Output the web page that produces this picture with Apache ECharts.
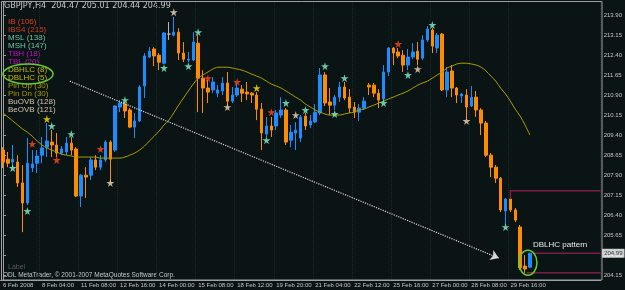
<!DOCTYPE html>
<html>
<head>
<meta charset="utf-8">
<script src="https://cdn.jsdelivr.net/npm/echarts@6/dist/echarts.min.js"></script>
<style>html,body{margin:0;padding:0;background:#0a1414}#chart{width:625px;height:290px}</style>
</head>
<body>
<div id="chart"></div>
<script>
// GBPJPY H4 bars: [open, close, low, high]
var candles = [
  [208.85,208.40,208.18,208.96],[208.51,208.36,208.21,208.78],[208.40,208.51,208.18,209.04],[208.40,207.62,207.47,208.66],
  [207.62,206.87,205.78,208.29],[206.87,208.36,206.79,209.30],[208.18,208.33,208.03,208.85],[208.36,208.63,207.99,208.85],
  [208.66,208.93,208.36,209.34],[208.96,209.19,208.59,209.86],[209.15,209.04,208.59,209.60],[209.04,208.74,208.59,209.49],
  [208.74,208.89,208.66,209.00],[208.78,209.11,208.66,209.34],[209.11,208.85,208.66,209.34],[208.89,207.13,207.09,208.96],
  [207.13,207.91,206.72,207.95],[207.91,207.84,207.06,208.21],[207.91,208.48,207.73,208.59],[208.48,208.21,208.10,208.66],
  [208.21,208.48,208.10,208.66],[208.48,209.15,208.40,209.22],[209.15,208.51,207.65,209.22],[208.85,210.50,208.78,210.53],
  [210.46,210.61,210.27,210.72],[210.57,210.31,210.05,210.65],[210.35,209.71,209.67,210.42],[209.71,209.94,209.30,210.24],
  [209.94,211.21,209.90,211.28],[211.25,212.37,210.80,212.48],[212.33,212.55,212.29,212.70],[212.63,212.37,211.99,212.70],
  [212.40,212.14,211.84,212.48],[212.10,213.23,212.07,213.26],[213.19,213.19,212.97,213.64],[213.15,213.26,213.11,213.83],
  [213.26,212.48,212.22,213.41],[212.48,212.25,212.14,212.89],[212.22,212.25,212.14,212.52],[212.22,212.89,212.18,213.26],
  [212.85,211.54,210.27,213.15],[211.54,211.17,210.24,211.84],[211.17,211.02,210.61,211.47],[211.10,211.40,210.98,211.58],
  [210.98,211.10,210.83,211.28],[211.06,211.36,210.91,211.58],[211.36,210.68,210.53,211.77],[210.68,210.91,210.61,211.21],
  [210.91,211.17,210.83,211.36],[211.13,210.98,210.65,211.28],[211.02,210.95,210.72,211.40],[210.98,210.91,210.61,211.02],
  [210.91,210.38,209.97,211.02],[210.38,209.49,208.85,210.61],[209.45,209.75,209.34,210.09],[209.75,209.60,209.34,210.09],
  [209.75,210.24,209.60,210.35],[210.16,210.35,210.05,210.83],[210.35,209.15,209.04,210.42],[209.22,209.52,208.96,209.79],
  [209.49,209.60,208.85,209.90],[209.30,210.09,209.15,210.16],[210.12,209.75,209.60,210.24],[209.79,209.94,209.67,210.16],
  [209.90,210.27,209.86,210.57],[210.24,211.66,210.16,211.92],[211.66,210.61,210.50,211.77],[210.65,210.53,210.16,211.17],
  [210.53,210.83,210.35,210.91],[210.83,211.21,210.65,211.40],[211.21,210.80,210.72,211.40],[210.83,210.42,210.24,211.13],
  [210.46,210.27,210.05,210.65],[210.27,210.42,209.94,210.57],[210.42,210.68,210.35,210.83],[211.28,211.21,210.91,211.36],
  [211.28,210.98,210.83,211.36],[210.98,210.72,210.42,211.13],[210.76,211.77,210.72,212.03],[211.77,212.67,211.62,212.70],
  [212.67,212.48,212.03,212.70],[212.52,212.37,212.29,212.67],[212.40,212.03,211.77,212.59],[212.03,212.33,211.84,212.63],
  [212.33,212.52,212.25,212.85],[212.55,212.25,212.03,212.89],[212.29,212.97,212.22,213.15],[212.97,213.38,212.89,213.49],
  [213.34,212.74,212.48,213.41],[212.67,213.15,212.48,213.23],[213.19,211.10,211.06,213.23],[211.10,211.77,210.83,211.96],
  [211.81,211.17,210.83,212.03],[211.17,210.91,210.61,211.21],[210.87,210.95,210.61,210.98],[210.91,210.46,210.05,211.13],
  [210.50,210.83,210.46,211.25],[210.83,210.35,210.09,211.06],[210.35,209.86,209.41,210.42],[209.86,208.66,208.59,209.94],
  [208.66,208.21,207.84,208.74],[208.21,207.80,207.62,208.29],[207.80,206.61,206.53,207.84],[206.57,207.02,206.05,207.06],
  [207.02,206.61,206.53,207.09],[206.61,206.23,206.16,206.68],[205.97,204.44,204.36,206.05],[204.51,204.40,204.26,204.92],
  [204.47,204.99,204.44,205.01]
];

var maLine = [
  210.24,210.09,209.94,209.79,209.64,209.52,209.37,209.19,209.04,208.93,208.85,208.78,208.70,208.66,208.63,208.59,
  208.59,208.59,208.59,208.59,208.55,208.55,208.55,208.55,208.55,208.59,208.66,208.74,208.85,209.00,209.19,209.37,
  209.56,209.79,209.97,210.24,210.53,210.80,211.06,211.32,211.54,211.66,211.77,211.88,211.95,211.95,211.95,211.92,
  211.88,211.84,211.77,211.69,211.62,211.54,211.43,211.32,211.25,211.17,211.06,210.95,210.83,210.72,210.57,210.46,
  210.35,210.27,210.20,210.16,210.16,210.16,210.20,210.24,210.27,210.35,210.38,210.46,210.53,210.61,210.68,210.76,
  210.83,210.91,210.98,211.06,211.17,211.28,211.36,211.43,211.54,211.66,211.77,211.92,211.99,212.07,212.10,212.10,
  212.07,212.03,211.95,211.81,211.62,211.43,211.17,210.95,210.68,210.38,210.12,209.79,209.41
];

// signal stars: [bar index, price]
var starsAqua = [[2,208.18],[5,206.57],[10,209.75],[14,209.45],[25,210.72],[33,211.92],[38,211.99],[40,213.26],
  [54,209.22],[58,210.61],[62,210.35],[66,211.99],[68,210.20],[70,211.54],[78,210.61],[83,211.66],[88,213.53],[103,205.97]];
var starsRed = [[6,209.08],[11,208.48],[20,208.89],[42,211.54],[48,211.40],[55,210.27],[81,212.82]];
var starsYellow = [[9,210.01],[52,211.17]];
var starsBeige = [[22,207.62],[35,214.01],[46,210.46],[60,210.16],[85,211.88],[95,209.94]];

var tickIndex = [0, 8, 16, 24, 32, 40, 48, 56, 64, 72, 80, 88, 96, 104];
var tickLabels = ['6 Feb 2008', '8 Feb 04:00', '11 Feb 08:00', '12 Feb 16:00', '14 Feb 00:00', '15 Feb 08:00',
  '18 Feb 12:00', '19 Feb 20:00', '21 Feb 04:00', '22 Feb 12:00', '25 Feb 16:00', '27 Feb 00:00', '28 Feb 08:00', '29 Feb 16:00'];
var priceTicks = [204.15, 204.90, 205.65, 206.40, 207.15, 207.90, 208.65, 209.40, 210.15, 210.90, 211.65, 212.40, 213.15, 213.90];

var lastPrice = 204.99;
var trendLine = [[13.7, 211.43], [101.6, 204.81]];
var patternTop = [[104, 207.02], [104, 207.33], [122.5, 207.33]];
var patternBottom = [[107.3, 204.26], [122.5, 204.26]];
var bidLine = [[108.8, 204.99], [122.5, 204.99]];

var legendNames = ['IB (106)', 'IBS4 (215)', 'MSL (138)', 'MSH (147)', 'TBH (18)', 'TBL (20)', 'DBHLC (8)', 'DBLHC (5)',
  'Pin Up (30)', 'Pin Dn (30)', 'BuOVB (128)', 'BeOVB (121)'];
var legendColors = ['#e0401e', '#d43c1c', '#6cc4a0', '#6cc4a0', '#c010c0', '#c010c0', '#c4b800', '#c4b800',
  '#a89400', '#a89400', '#d8c0a8', '#d8c0a8'];

var slots = 123;
var cats = [];
for (var i = 0; i < slots; i++) cats.push(String(i));

var starPath = 'path://M50,0 L61,35 L98,35 L68,57 L79,91 L50,70 L21,91 L32,57 L2,35 L39,35 Z';
var font = 'Liberation Sans';
var wide = 'DejaVu Sans';

function starSeries(data, color) {
  return {
    type: 'scatter', xAxisIndex: 0, yAxisIndex: 0, data: data, symbol: starPath, symbolSize: 8,
    itemStyle: {color: color}, z: 5, silent: true
  };
}

var chart = echarts.init(document.getElementById('chart'));

var graphics = [
  {type: 'rect', shape: {x: 1.5, y: 1.5, width: 600.5, height: 278.5}, style: {fill: 'none', stroke: '#a0a0a0', lineWidth: 1}, z: 1, silent: true},
  {type: 'text', left: 4, top: 2, style: {text: 'GBPJPY,H4  204.47 205.01 204.44 204.99', fill: '#c8c8c8', font: '8px "' + wide + '"'}},
  {type: 'text', left: 8, top: 264, style: {text: 'Label', fill: '#5a5a5a', font: '7px "' + font + '"'}},
  {type: 'text', left: 3, top: 272, style: {text: 'ODL MetaTrader, \u00a9 2001-2007 MetaQuotes Software Corp.', fill: '#c8c8c8', font: '6.5px "' + font + '"'}},
  {type: 'text', left: 533, top: 241, style: {text: 'DBLHC pattern', fill: '#e8e8e8', font: '8px "' + font + '"'}},
  {type: 'ellipse', shape: {cx: 28, cy: 74, rx: 25, ry: 10}, style: {fill: 'none', stroke: '#66cc33', lineWidth: 1.5}, z: 10}
];
legendNames.forEach(function (name, k) {
  graphics.push({type: 'text', left: 8, top: 18 + 8 * k, style: {text: name, fill: legendColors[k], font: '8px "' + font + '"'}});
});

var option = {
  backgroundColor: '#0a1414',
  animation: false,
  grid: {left: -2, right: 23, top: 2, bottom: 10},
  xAxis: [{
    type: 'category', data: cats, boundaryGap: true,
    axisLine: {lineStyle: {color: '#a0a0a0'}},
    axisTick: {alignWithLabel: true, length: 2, lineStyle: {color: '#a0a0a0'},
      interval: function (idx) { return tickIndex.indexOf(idx) > 0; }},
    axisLabel: {
      interval: function (idx) { return tickIndex.indexOf(idx) >= 0; },
      formatter: function (v, idx) { var k = tickIndex.indexOf(idx); return k >= 0 ? tickLabels[k] : ''; },
      showMinLabel: true,
      align: 'left', margin: 2, fontSize: 6, color: '#c4c4c4', fontFamily: font
    },
    splitLine: {show: true, interval: function (idx) { return tickIndex.indexOf(idx) > 0; },
      lineStyle: {color: '#1d2a2a', type: 'dotted'}}
  }, {
    type: 'value', min: -0.5, max: slots - 0.5, show: false
  }],
  yAxis: {
    type: 'value', position: 'right', min: 203.99, max: 214.39,
    axisLine: {show: true, lineStyle: {color: '#a0a0a0'}},
    axisTick: {show: true, length: 3, customValues: priceTicks, lineStyle: {color: '#a0a0a0'}},
    axisLabel: {customValues: priceTicks, formatter: function (v) { return v.toFixed(2); },
      fontSize: 6, color: '#c4c4c4', margin: 3, fontFamily: font},
    splitLine: {show: false}
  },
  series: [
    {
      type: 'candlestick', xAxisIndex: 0, yAxisIndex: 0, data: candles, barWidth: 3,
      itemStyle: {color: '#1e8cff', color0: '#ff8c00', borderColor: '#1e8cff', borderColor0: '#ff8c00',
        borderColorDoji: '#b8b8b8', borderWidth: 1},
      z: 3
    },
    {
      type: 'line', xAxisIndex: 0, yAxisIndex: 0, data: maLine, symbol: 'none', smooth: 0.3,
      lineStyle: {color: '#aaa000', width: 1}, z: 4, silent: true
    },
    starSeries(starsAqua, '#7ff5cc'),
    starSeries(starsRed, '#ff4818'),
    starSeries(starsYellow, '#ffe200'),
    starSeries(starsBeige, '#f5dbb4'),
    {
      type: 'lines', coordinateSystem: 'cartesian2d', xAxisIndex: 1, yAxisIndex: 0,
      data: [{coords: trendLine}], symbol: ['none', 'arrow'], symbolSize: 8,
      lineStyle: {color: '#d8d8d8', width: 1.2, type: 'dotted', opacity: 1}, z: 6, silent: true
    },
    {
      type: 'lines', coordinateSystem: 'cartesian2d', xAxisIndex: 1, yAxisIndex: 0, polyline: true,
      data: [{coords: patternTop}, {coords: patternBottom}, {coords: bidLine}],
      lineStyle: {color: '#7a1e48', width: 1.5, opacity: 1}, z: 6, silent: true
    },
    {
      type: 'scatter', xAxisIndex: 1, yAxisIndex: 0, data: [[slots - 0.5, lastPrice]], symbolSize: 1, clip: false,
      itemStyle: {color: 'transparent'},
      label: {show: true, position: 'right', distance: 1, formatter: lastPrice.toFixed(2),
        backgroundColor: '#ffffff', color: '#000000', fontSize: 6, fontFamily: font, padding: [2, 2, 1, 2]},
      z: 10, silent: true
    }
  ],
  graphic: graphics
};

chart.setOption(option);

// green ellipse around the last two bars
var c = chart.convertToPixel({xAxisIndex: 1, yAxisIndex: 0}, [107.6, 204.64]);
chart.setOption({graphic: graphics.concat([{
  type: 'ellipse', shape: {cx: c[0], cy: c[1], rx: 9, ry: 12.5},
  style: {fill: 'none', stroke: '#66cc33', lineWidth: 1.5}, z: 10
}])});
</script>
</body>
</html>
